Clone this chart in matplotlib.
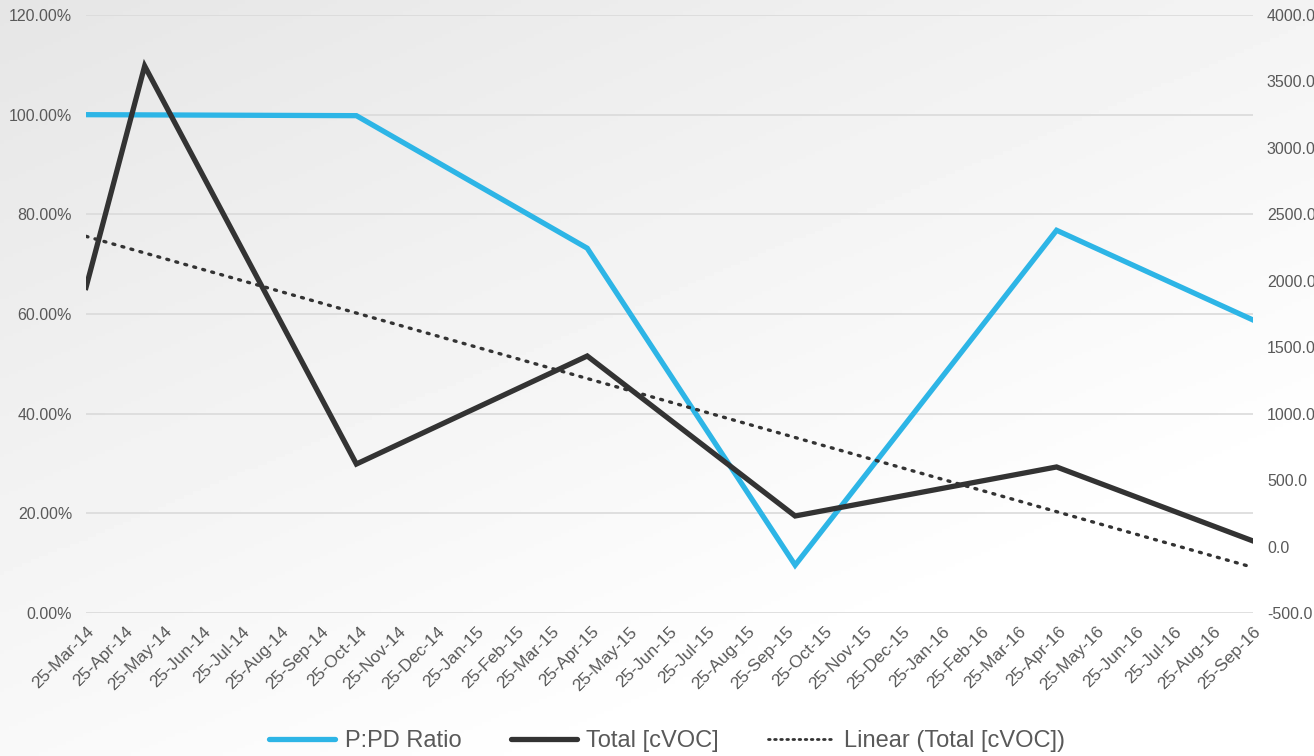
import matplotlib
matplotlib.use("Agg")
import matplotlib.pyplot as plt
import matplotlib.dates as mdates
from matplotlib.ticker import FuncFormatter, MultipleLocator
import numpy as np
import pandas as pd

plt.rcParams["font.family"] = ["Liberation Sans", "DejaVu Sans"]

# sampling dates and measured values
ratio_dates = ["2014-03-25", "2014-10-23", "2015-04-22", "2015-10-02", "2016-04-24", "2016-09-25"]
ratio_pct = [100.0, 99.8, 73.2, 9.6, 76.8, 58.8]

voc_dates = ["2014-03-25", "2014-05-10", "2014-10-23", "2015-04-22", "2015-10-02", "2016-04-24", "2016-09-25"]
voc_total = [1950, 3616, 621, 1434, 230, 599, 42]

tick_start, tick_end = "2014-03-25", "2016-09-25"

blue = "#2db5e6"
dark = "#333333"
grey_txt = "#595959"

fig = plt.figure(figsize=(13.14, 7.56), dpi=100)

# soft diagonal background shading
bg = fig.add_axes([0, 0, 1, 1], zorder=-10)
yy, xx = np.mgrid[0:1:200j, 0:1:300j]
shade = 0.90 + 0.10 * np.clip(0.55 * xx + 0.75 * yy, 0, 1)
bg.imshow(shade, cmap="gray", vmin=0, vmax=1, aspect="auto", extent=[0, 1, 1, 0])
bg.axis("off")

ax = fig.add_axes([86 / 1314, 1 - 613 / 756, (1253 - 86) / 1314, (613 - 15) / 756])
ax.patch.set_alpha(0)
ax2 = ax.twinx()

rd = pd.to_datetime(ratio_dates)
vd = pd.to_datetime(voc_dates)

ax.plot(rd, ratio_pct, color=blue, lw=3.8, solid_joinstyle="miter", zorder=3)
ax2.plot(vd, voc_total, color=dark, lw=3.8, solid_joinstyle="miter", zorder=3)

# linear trend of total vs date
xnum = mdates.date2num(vd)
k, b = np.polyfit(xnum, voc_total, 1)
ax2.plot(vd[[0, -1]], k * xnum[[0, -1]] + b, color=dark, lw=2.4,
         linestyle=(0, (0.6, 2.2)), dash_capstyle="round", zorder=2)

ax.set_ylim(0, 120)
ax.yaxis.set_major_locator(MultipleLocator(20))
ax.yaxis.set_major_formatter(FuncFormatter(lambda v, p: f"{v:.2f}%"))
ax2.set_ylim(-500, 4000)
ax2.yaxis.set_major_locator(MultipleLocator(500))
ax2.yaxis.set_major_formatter(FuncFormatter(lambda v, p: f"{v:.1f}"))

# monthly ticks on the 25th
ticks = pd.date_range("2014-03-01", tick_end, freq="MS") + pd.Timedelta(days=24)
ax.set_xlim(pd.Timestamp(tick_start), pd.Timestamp(tick_end))
ax.set_xticks(ticks)
ax.set_xticklabels([t.strftime("%d-%b-%y") for t in ticks], rotation=45,
                   ha="right", rotation_mode="anchor", fontsize=12.5)

ax.grid(axis="y", color="#dadada", lw=1.2)
ax.set_axisbelow(True)
for a in (ax, ax2):
    for s in a.spines.values():
        s.set_visible(False)
    a.tick_params(length=0, labelsize=11.5, colors=grey_txt)
ax.tick_params(axis="y", pad=10)
ax.tick_params(axis="x", pad=8, labelsize=12.5)
ax2.tick_params(axis="y", pad=10)

handles = [
    plt.Line2D([], [], color=blue, lw=3.8, solid_capstyle="round"),
    plt.Line2D([], [], color=dark, lw=3.8, solid_capstyle="round"),
    plt.Line2D([], [], color=dark, lw=2.0, linestyle=(0, (0.6, 1.6)), dash_capstyle="round"),
]
labels = ["P:PD Ratio", "Total [cVOC]", "Linear (Total [cVOC])"]
fig.legend(handles, labels, loc="center", bbox_to_anchor=(0.5076, 1 - 741 / 756), ncol=3,
           frameon=False, fontsize=17, handlelength=2.8, handletextpad=0.4,
           columnspacing=2.1, labelcolor=grey_txt)

fig.savefig("out.png", dpi=100)
